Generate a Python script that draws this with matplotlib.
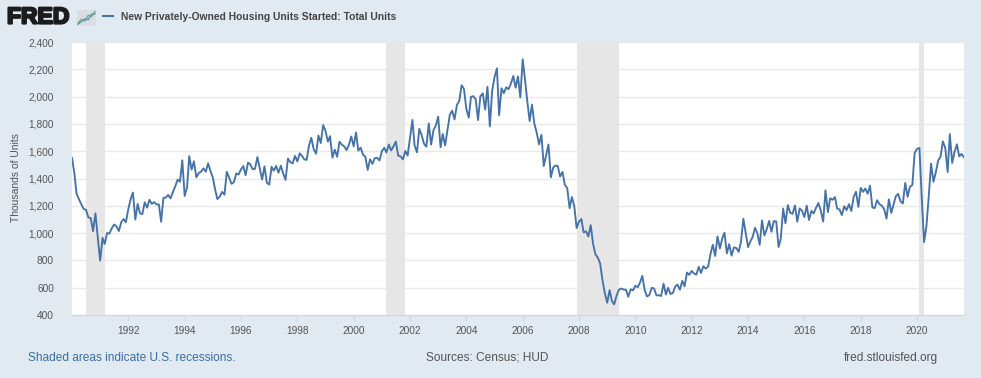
import matplotlib
matplotlib.use("Agg")
import matplotlib.pyplot as plt
import matplotlib.patheffects as pe
import pandas as pd

plt.rcParams['font.family'] = ['Liberation Sans', 'DejaVu Sans']

# ---- data (thousands of units, SAAR), monthly from 1990-01 ----
start = "1990-01-01"
houst = [
    1551, 1437, 1289, 1248, 1212, 1177, 1171, 1115, 1110, 1014, 1145, 969,
    798, 965, 921, 1001, 996, 1036, 1063, 1049, 1015, 1079, 1103, 1079,
    1176, 1250, 1297, 1099, 1214, 1145, 1139, 1226, 1186, 1244, 1214, 1227,
    1210, 1210, 1083, 1258, 1260, 1280, 1254, 1300, 1343, 1392, 1376, 1533,
    1272, 1337, 1564, 1465, 1526, 1409, 1439, 1450, 1474, 1450, 1511, 1455,
    1407, 1316, 1249, 1267, 1302, 1281, 1449, 1405, 1361, 1373, 1437, 1429,
    1467, 1491, 1424, 1516, 1504, 1467, 1472, 1557, 1475, 1392, 1489, 1370,
    1355, 1486, 1457, 1492, 1442, 1494, 1437, 1390, 1546, 1520, 1510, 1566,
    1525, 1584, 1567, 1540, 1536, 1641, 1698, 1614, 1582, 1715, 1660, 1792,
    1748, 1670, 1710, 1553, 1611, 1559, 1669, 1648, 1635, 1608, 1648, 1708,
    1636, 1737, 1604, 1626, 1575, 1559, 1463, 1541, 1507, 1549, 1551, 1532,
    1600, 1625, 1590, 1649, 1605, 1636, 1670, 1567, 1562, 1540, 1602, 1568,
    1698, 1829, 1642, 1592, 1764, 1717, 1655, 1633, 1804, 1648, 1753, 1788,
    1853, 1629, 1726, 1643, 1751, 1867, 1897, 1833, 1939, 1967, 2083, 2057,
    1911, 1846, 1998, 2003, 1981, 1828, 2002, 2024, 1905, 2072, 1782, 2042,
    2144, 2207, 1864, 2061, 2025, 2068, 2054, 2095, 2151, 2065, 2147, 1994,
    2273, 2119, 1969, 1821, 1942, 1802, 1737, 1650, 1720, 1491, 1570, 1649,
    1409, 1480, 1495, 1490, 1415, 1448, 1354, 1330, 1183, 1264, 1197, 1037,
    1084, 1103, 1005, 1013, 975, 1058, 923, 844, 820, 777, 652, 560,
    490, 582, 505, 478, 540, 585, 594, 586, 585, 534, 588, 581,
    614, 604, 636, 687, 583, 536, 546, 599, 594, 543, 545, 539,
    630, 550, 599, 554, 561, 608, 623, 585, 650, 610, 711, 694,
    723, 704, 695, 753, 708, 757, 740, 754, 847, 915, 833, 976,
    888, 962, 1003, 851, 919, 835, 895, 891, 863, 936, 1105, 1003,
    897, 941, 970, 1039, 1000, 914, 1093, 982, 1031, 1089, 1010, 1088,
    1086, 898, 958, 1180, 1072, 1205, 1149, 1141, 1203, 1083, 1180, 1165,
    1118, 1201, 1096, 1162, 1144, 1186, 1220, 1165, 1084, 1313, 1154, 1255,
    1244, 1264, 1180, 1173, 1132, 1197, 1168, 1212, 1162, 1265, 1303, 1192,
    1331, 1302, 1327, 1288, 1348, 1188, 1183, 1241, 1212, 1201, 1175, 1106,
    1247, 1148, 1207, 1270, 1287, 1233, 1217, 1368, 1266, 1340, 1351, 1587,
    1617, 1624, 1272, 934, 1046, 1270, 1509, 1376, 1447, 1532, 1561, 1672,
    1625, 1447, 1725, 1514, 1594, 1650, 1562, 1580, 1555,
]
recessions = [("1990-07-01", "1991-03-01"), ("2001-03-01", "2001-11-01"),
              ("2007-12-01", "2009-06-01"), ("2020-02-01", "2020-04-01")]
y_ticks = [400, 600, 800, 1000, 1200, 1400, 1600, 1800, 2000, 2200, 2400]
x_tick_years = list(range(1992, 2021, 2))
title = "New Privately-Owned Housing Units Started: Total Units"
y_label = "Thousands of Units"

dates = pd.date_range(start, periods=len(houst), freq="MS")

BG = "#e1e9f1"
LINE = "#4572a7"

W, H = 981, 378
fig = plt.figure(figsize=(W / 100, H / 100), dpi=100, facecolor=BG)

L, R, T, B = 72, 964, 42, 315
ax = fig.add_axes([L / W, 1 - B / H, (R - L) / W, (B - T) / H])
ax.set_facecolor("white")

for s, e in recessions:
    ax.axvspan(pd.Timestamp(s), pd.Timestamp(e), color="#e6e6e6", lw=0, zorder=1)

ax.plot(dates, houst, color=LINE, lw=1.35, zorder=3, solid_joinstyle="round")

ax.set_xlim(pd.Timestamp("1990-01-01"), pd.Timestamp("2021-09-01"))
ax.set_ylim(400, 2400)
ax.set_yticks(y_ticks)
ax.set_yticklabels([f"{v:,}" for v in y_ticks])
ax.yaxis.grid(True, color="#e9e9e9", lw=1.0, zorder=0)
ax.set_axisbelow(True)

ax.set_xticks([pd.Timestamp(f"{y}-01-01") for y in x_tick_years])
ax.set_xticklabels([str(y) for y in x_tick_years])

for sp in ["top", "right", "left"]:
    ax.spines[sp].set_visible(False)
ax.spines["bottom"].set_color("#ccd6eb")
ax.spines["bottom"].set_linewidth(0.8)

ax.tick_params(axis="y", length=0, pad=13, labelsize=7.3, labelcolor="#555555")
ax.tick_params(axis="x", length=4, width=0.8, color="#ccd6eb", pad=4,
               labelsize=7.3, labelcolor="#555555")

fig.text(16 / W, 1 - 178 / H, y_label, rotation=90, ha="center", va="center",
         fontsize=7.5, color="#555555")

# header
fig.text(7 / W, 1 - 17 / H, "FRED", fontsize=16.5, fontweight="bold",
         color="#1c1c1c", ha="left", va="center",
         path_effects=[pe.withStroke(linewidth=1.6, foreground="#1c1c1c")])
icon = fig.add_axes([77 / W, 1 - 26 / H, 19 / W, 16 / H])
icon.set_facecolor("#d9dee4")
icon.plot([0, 1, 2, 3, 4, 5], [0.5, 1.5, 1.0, 2.6, 2.2, 3.6], color="#7fb35b", lw=1.0)
icon.plot([0, 1, 2, 3, 4, 5], [0.2, 0.9, 1.6, 1.4, 2.9, 3.0], color="#5b8fd0", lw=1.0)
icon.set_xlim(-0.3, 5.3); icon.set_ylim(-0.3, 4)
icon.set_xticks([]); icon.set_yticks([])
for sp in icon.spines.values():
    sp.set_visible(False)

fig.lines.append(plt.Line2D([103 / W, 113 / W], [1 - 16 / H, 1 - 16 / H],
                            transform=fig.transFigure, color=LINE, lw=1.5))
fig.text(121 / W, 1 - 16.5 / H, title, fontsize=7.35, fontweight="bold",
         color="#444444", ha="left", va="center")

# footer
fig.text(28 / W, 1 - 358 / H, "Shaded areas indicate U.S. recessions.",
         fontsize=8.6, color="#3a6ea5", ha="left", va="center")
fig.text(426 / W, 1 - 358 / H, "Sources: Census; HUD",
         fontsize=8.6, color="#555555", ha="left", va="center")
fig.text(938 / W, 1 - 358 / H, "fred.stlouisfed.org",
         fontsize=8.6, color="#555555", ha="right", va="center")

fig.savefig("out.png", dpi=100, facecolor=BG)
